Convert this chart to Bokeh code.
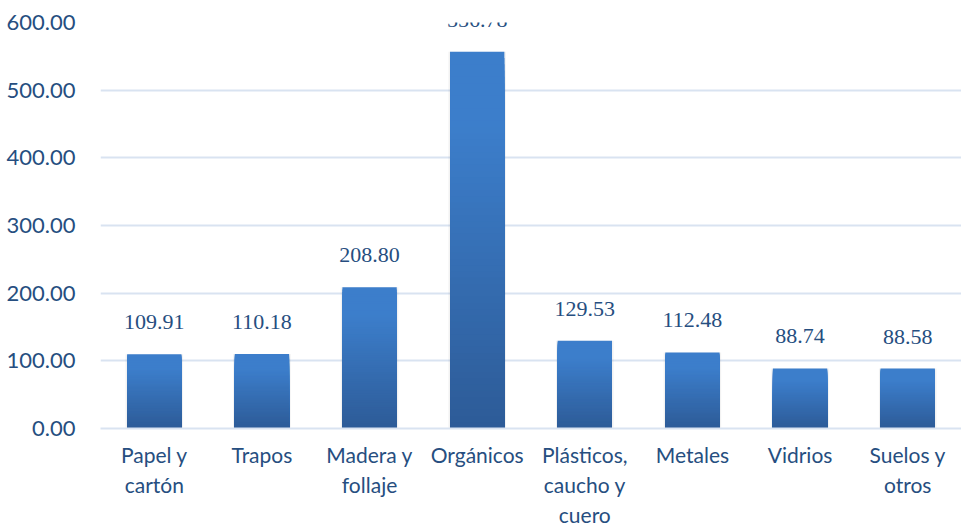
from bokeh.plotting import figure
from bokeh.models import ColumnDataSource, FixedTicker, NumeralTickFormatter, Range1d, LabelSet
from bokeh.embed import file_html
from bokeh.resources import INLINE

categories = ["Papel y cartón", "Trapos", "Madera y follaje", "Orgánicos",
              "Plásticos, caucho y cuero", "Metales", "Vidrios", "Suelos y otros"]
tick_labels = ["Papel y\ncartón", "Trapos", "Madera y\nfollaje", "Orgánicos",
               "Plásticos,\ncaucho y\ncuero", "Metales", "Vidrios", "Suelos y\notros"]
values = [109.91, 110.18, 208.80, 556.78, 129.53, 112.48, 88.74, 88.58]
y_ticks = [0, 100, 200, 300, 400, 500, 600]

FONT = "Lato"
TEXT_COLOR = "#264e80"
GRID_COLOR = "#d9e3f1"
DARK = (0x2D, 0x5B, 0x97)
LIGHT = (0x3C, 0x7E, 0xCB)

positions = [i + 0.5 for i in range(len(categories))]

p = figure(width=961, height=529, output_backend="svg",
           toolbar_location=None, min_border_left=100, min_border_right=0,
           min_border_top=22, min_border_bottom=92)
p.x_range = Range1d(0, len(categories))
p.y_range = Range1d(0, 600)
p.outline_line_color = None
p.background_fill_color = "white"

# Gradient bars: overlapping bars from 0 up to fractions of each value,
# tallest (lightest) first, shorter (darker) drawn on top
N = 60
xs, tops, colors = [], [], []
for x, v in zip(positions, values):
    for i in range(N, 0, -1):
        t = (i - 0.5) / N
        f = min(1.0, t / 0.8)
        col = tuple(int(round(d + (l - d) * f)) for d, l in zip(DARK, LIGHT))
        xs.append(x)
        tops.append(v * i / N)
        colors.append("#%02x%02x%02x" % col)

# soft shadow
p.vbar(x=positions, top=values, width=0.535, bottom=0, fill_color="#000000",
       fill_alpha=0.05, line_color=None)
p.vbar(x=xs, bottom=0, top=tops, width=0.505, fill_color=colors, line_color=None)

src = ColumnDataSource(dict(x=positions, y=values, t=["%.2f" % v for v in values]))
labels = LabelSet(x="x", y="y", text="t", source=src, text_align="center",
                  text_baseline="alphabetic", y_offset=25, text_font=FONT,
                  text_font_size="22px", text_color=TEXT_COLOR)
p.add_layout(labels)

p.xaxis.ticker = FixedTicker(ticks=positions)
p.xaxis.major_label_overrides = {x: lab for x, lab in zip(positions, tick_labels)}
p.yaxis.ticker = FixedTicker(ticks=y_ticks)
p.yaxis.formatter = NumeralTickFormatter(format="0.00")

for ax in (p.xaxis, p.yaxis):
    ax.axis_line_color = None
    ax.major_tick_line_color = None
    ax.minor_tick_line_color = None
    ax.major_label_text_font = FONT
    ax.major_label_text_color = TEXT_COLOR
p.yaxis.major_label_text_font_size = "22px"
p.xaxis.major_label_text_font_size = "21px"
p.xaxis.major_label_standoff = 7
p.yaxis.major_label_standoff = 19
p.xaxis.axis_line_color = GRID_COLOR
p.xaxis.axis_line_width = 2

p.xgrid.grid_line_color = None
p.ygrid.grid_line_color = GRID_COLOR
p.ygrid.grid_line_width = 2

open("out.html", "w").write(file_html(p, INLINE))
